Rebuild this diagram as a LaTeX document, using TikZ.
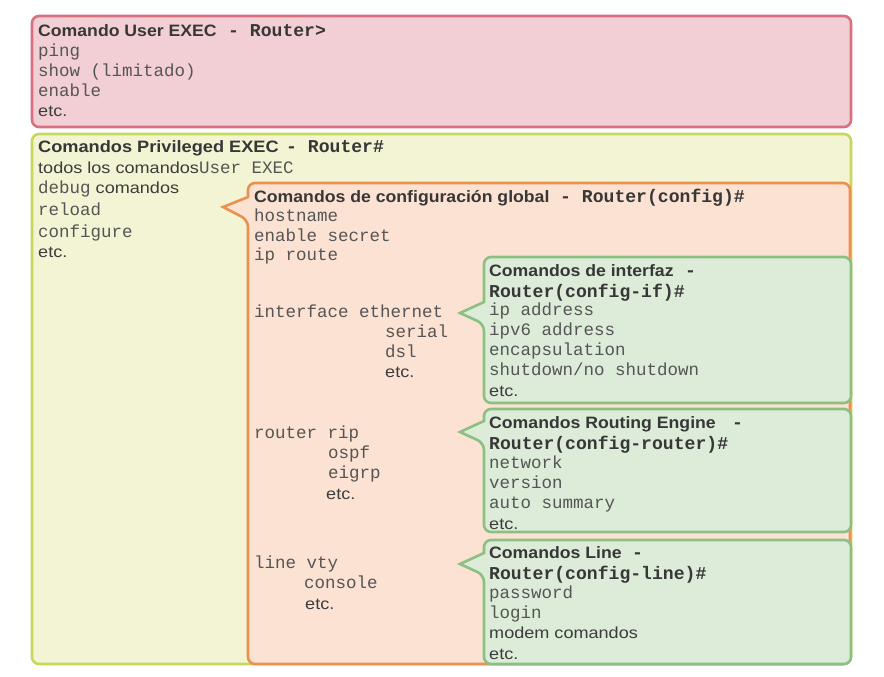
\documentclass[tikz,border=0pt]{standalone}
\usepackage{fontspec}
\setmainfont{Liberation Sans}[FakeStretch=1.13]
\newfontfamily\tfont{Liberation Sans}[FakeStretch=1.07]
\setmonofont{Liberation Mono}
\definecolor{redfill}{RGB}{242,207,213}
\definecolor{redline}{RGB}{216,112,128}
\definecolor{yelfill}{RGB}{243,244,211}
\definecolor{yelline}{RGB}{200,214,90}
\definecolor{orafill}{RGB}{252,226,210}
\definecolor{oraline}{RGB}{234,145,80}
\definecolor{grefill}{RGB}{220,236,216}
\definecolor{greline}{RGB}{140,192,130}
\definecolor{titlegray}{RGB}{55,55,55}
\definecolor{sansgray}{RGB}{60,60,60}
\definecolor{monogray}{RGB}{85,85,85}
\newcommand\cmono[1]{{\fontsize{17.5}{20}\selectfont\ttfamily\color{monogray}#1}}
\tikzset{
  redbox/.style={draw=redline,fill=redfill,line width=2.6pt,rounded corners=7pt},
  yelbox/.style={draw=yelline,fill=yelfill,line width=2.6pt,rounded corners=7pt},
  orabox/.style={draw=oraline,fill=orafill,line width=2.6pt},
  grebox/.style={draw=greline,fill=grefill,line width=2.6pt},
  ttx/.style={anchor=base west,inner sep=0pt,font=\fontsize{17.5}{20}\selectfont\ttfamily,text=monogray},
  sfx/.style={anchor=base west,inner sep=0pt,font=\fontsize{16}{19}\selectfont,text=sansgray},
  ttl/.style={anchor=base west,inner sep=0pt,font=\fontsize{16.5}{19}\selectfont\tfont\bfseries,text=titlegray},
  ttm/.style={anchor=base west,inner sep=0pt,font=\fontsize{18.1}{20}\selectfont\ttfamily\bfseries,text=titlegray}
}
\begin{document}
\begin{tikzpicture}[x=1pt,y=-1pt]
\useasboundingbox (0,0) rectangle (884,677);
\fill[white] (0,0) rectangle (884,677);
% boxes
\draw[redbox] (32,16) rectangle (851,127);
\draw[yelbox] (32,134) rectangle (851,664);
\draw[orabox] (248,220) [sharp corners]-- (223,207) -- (248,197) [rounded corners=7pt]-- (248,183) -- (850,183) -- (850,664) -- (248,664) -- cycle;
\draw[grebox] (484,324) [sharp corners]-- (460,313) -- (484,302) [rounded corners=7pt]-- (484,257) -- (851,257) -- (851,403) -- (484,403) -- cycle;
\draw[grebox] (484,443) [sharp corners]-- (460,432) -- (484,421) [rounded corners=7pt]-- (484,409) -- (851,409) -- (851,532) -- (484,532) -- cycle;
\draw[grebox] (484,575) [sharp corners]-- (460,564) -- (484,553) [rounded corners=7pt]-- (484,540) -- (851,540) -- (851,664) -- (484,664) -- cycle;
% User EXEC
\node[ttl] (ut) at (38,37) {Comando User EXEC};
\node[ttm] (utr) at (228,37) {- Router>};
\node[ttx] (u1) at (38,57) {ping};
\node[ttx] (u2) at (38,77) {show (limitado)};
\node[ttx] (u3) at (38,96) {enable};
\node[sfx] (u4) at (38,116) {etc.};
% Privileged EXEC
\node[ttl] (pt) at (38,152) {\scalebox{1.03}[1]{Comandos Privileged EXEC}};
\node[ttm] (ptr) at (286,152) {- Router\#};
\node[sfx] (p1) at (38,173) {todos los comandos\cmono{User EXEC}};
\node[sfx] (p2) at (38,193) {\cmono{debug} comandos};
\node[ttx] (p3) at (38,215) {reload};
\node[ttx] (p4) at (38,237) {configure};
\node[sfx] (p5) at (38,257) {etc.};
% global config
\node[ttl] (gt) at (254,202) {Comandos de configuración global};
\node[ttm] (gtr) at (560,202) {- Router(config)\#};
\node[ttx] (g1) at (254,221) {hostname};
\node[ttx] (g2) at (254,241) {enable secret};
\node[ttx] (g3) at (254,260) {ip route};
\node[ttx] (g4) at (254,317) {interface ethernet};
\node[ttx] (g5) at (385,337) {serial};
\node[ttx] (g6) at (385,357) {dsl};
\node[sfx] (g7) at (385,377) {etc.};
\node[ttx] (g8) at (254,438) {router rip};
\node[ttx] (g9) at (328,458) {ospf};
\node[ttx] (g10) at (328,478) {eigrp};
\node[sfx] (g11) at (326,499) {etc.};
\node[ttx] (g12) at (254,568) {line vty};
\node[ttx] (g13) at (304,588) {console};
\node[sfx] (g14) at (305,609) {etc.};
% interface
\node[ttl] (it) at (489,276) {Comandos de interfaz};
\node[ttm] (itd) at (685,276) {-};
\node[ttm] (it2) at (489,297) {Router(config-if)\#};
\node[ttx] (i1) at (489,315) {ip address};
\node[ttx] (i2) at (489,335) {ipv6 address};
\node[ttx] (i3) at (489,355) {encapsulation};
\node[ttx] (i4) at (489,375) {shutdown/no shutdown};
\node[sfx] (i5) at (489,396) {etc.};
% routing
\node[ttl] (rt) at (489,428) {Comandos Routing Engine};
\node[ttm] (rtd) at (732,428) {-};
\node[ttm] (rt2) at (489,449) {Router(config-router)\#};
\node[ttx] (r1) at (489,468) {network};
\node[ttx] (r2) at (489,488) {version};
\node[ttx] (r3) at (489,508) {auto summary};
\node[sfx] (r4) at (489,529) {etc.};
% line
\node[ttl] (lt) at (489,558) {Comandos Line};
\node[ttm] (ltd) at (632,558) {-};
\node[ttm] (lt2) at (489,579) {Router(config-line)\#};
\node[ttx] (l1) at (489,598) {password};
\node[ttx] (l2) at (489,618) {login};
\node[sfx] (l3) at (489,638) {modem comandos};
\node[sfx] (l4) at (489,659) {etc.};
\end{tikzpicture}
\end{document}
